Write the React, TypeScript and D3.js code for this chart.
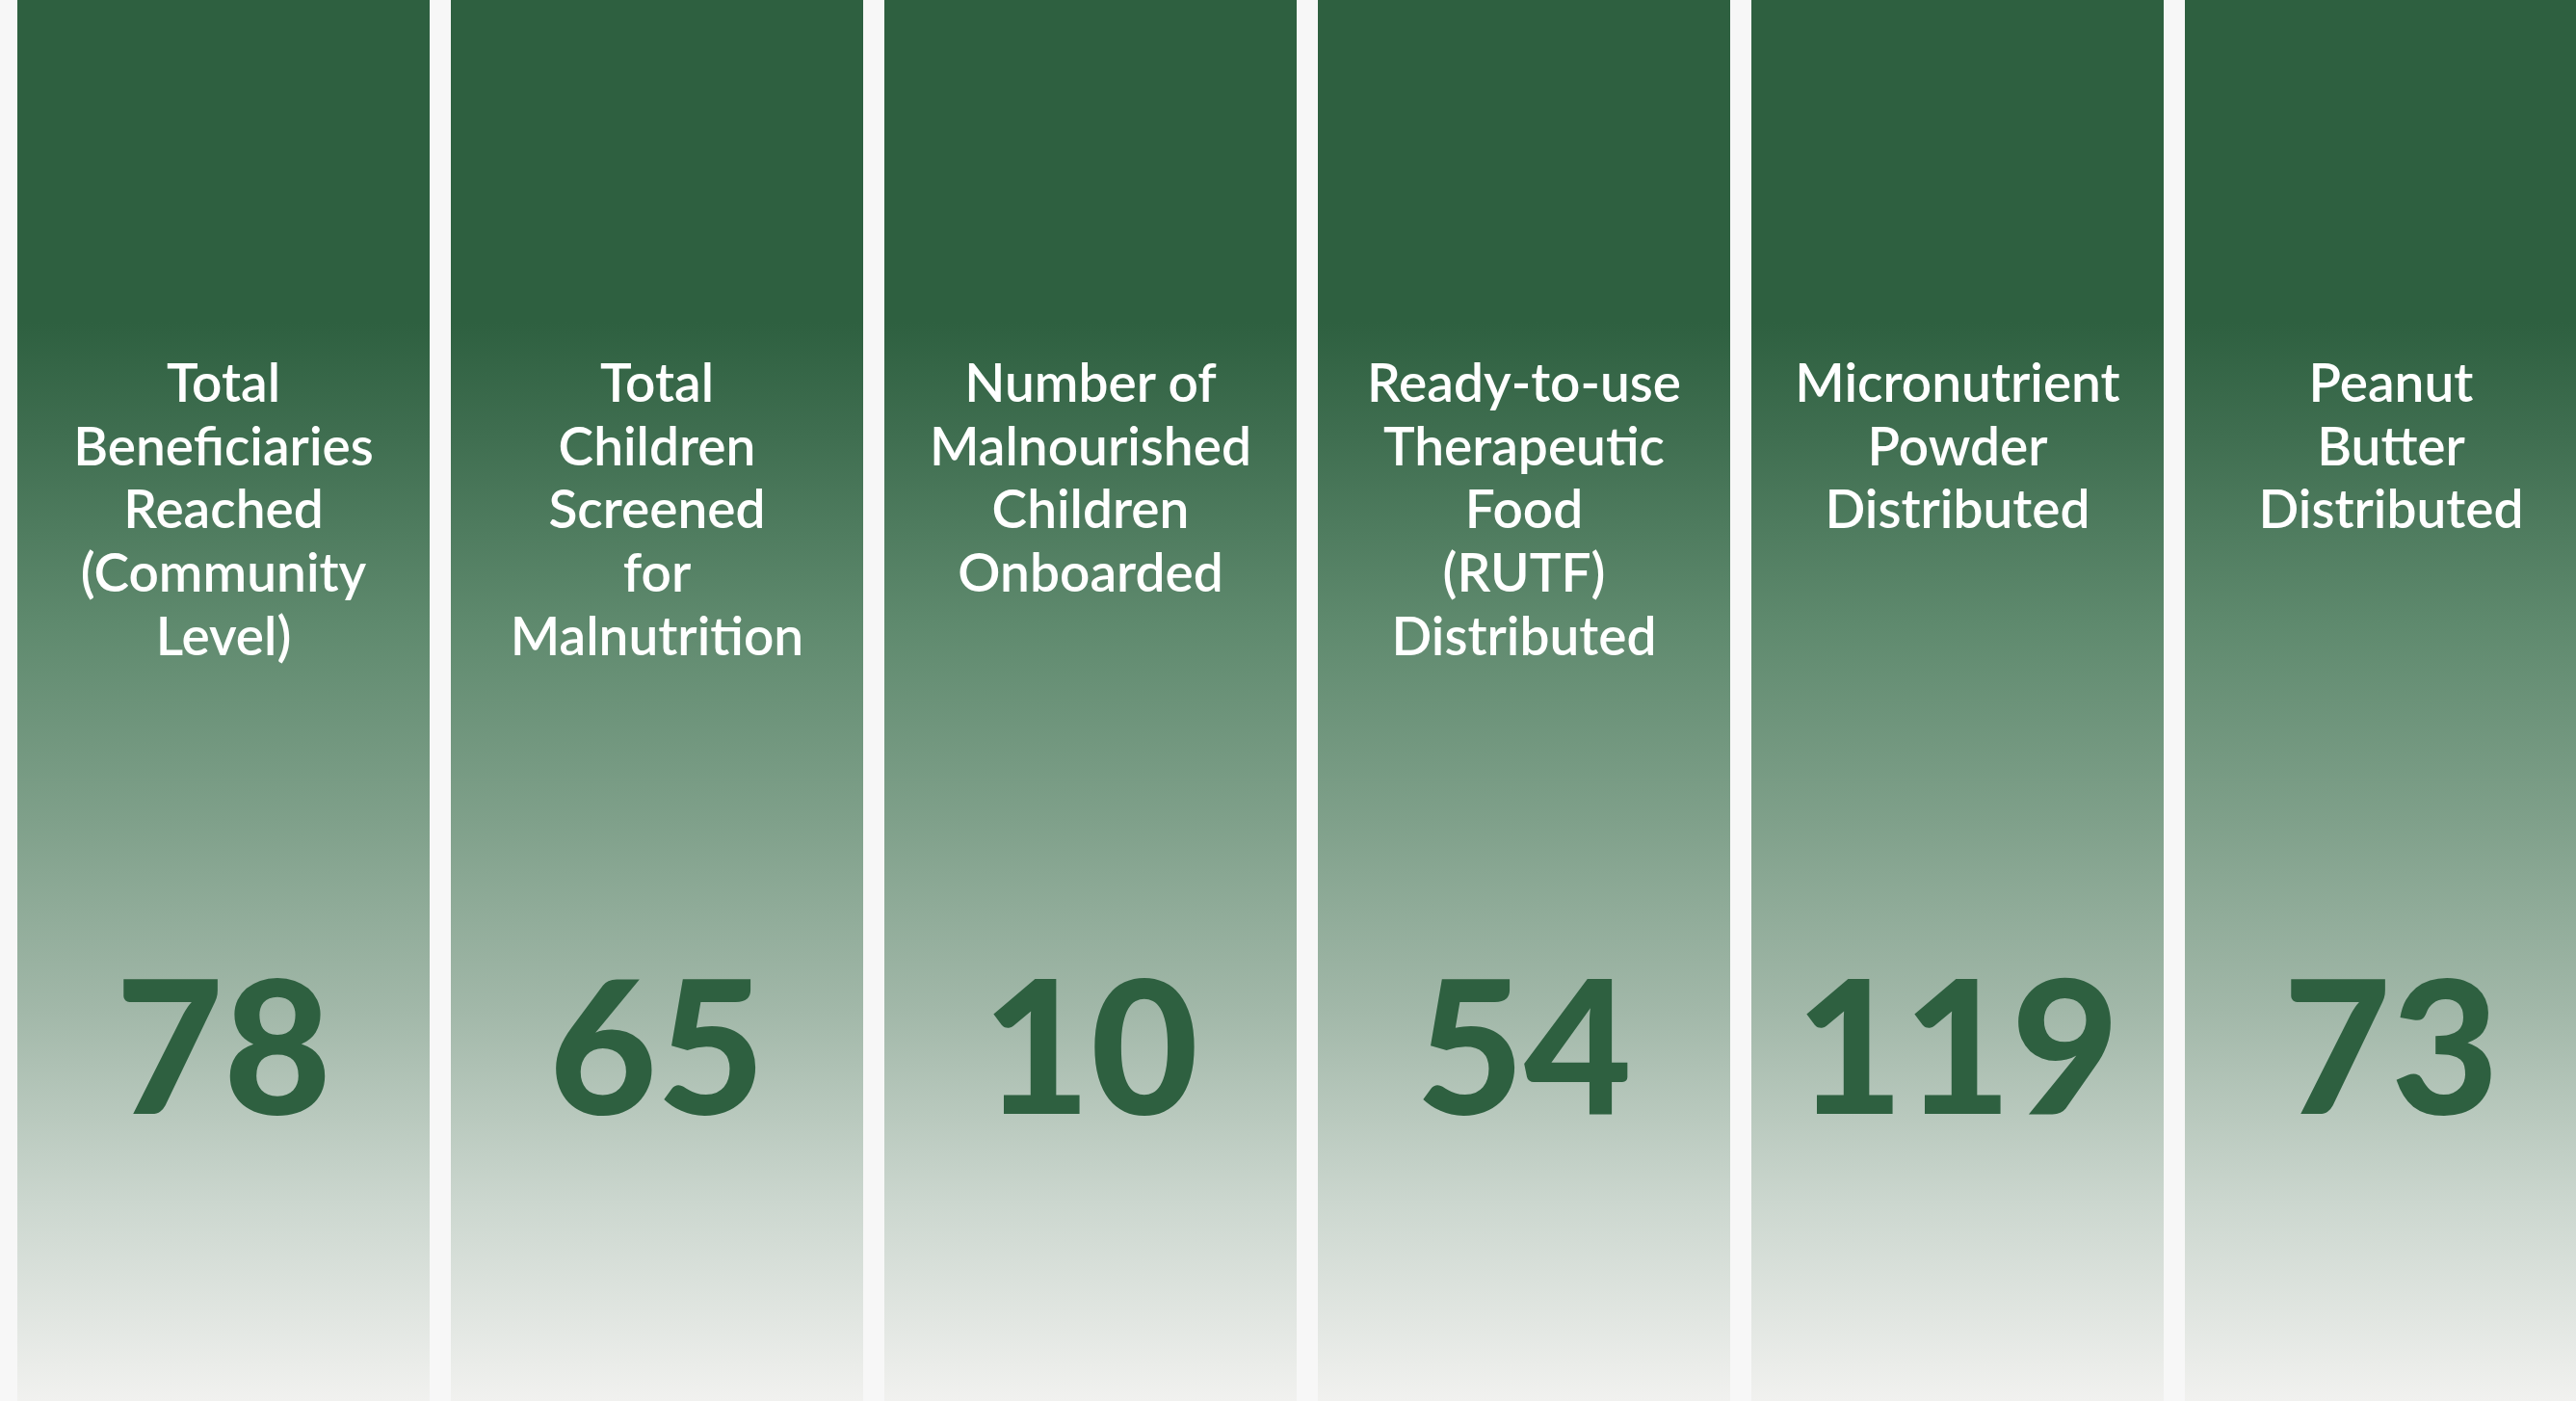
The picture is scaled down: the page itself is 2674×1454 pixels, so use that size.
import React, { useEffect, useRef } from 'react'
import * as d3 from 'd3'

// indicator labels, one entry per line of the label
const labels: string[][] = [
  ['Total', 'Beneficiaries', 'Reached', '(Community', 'Level)'],
  ['Total', 'Children', 'Screened', 'for', 'Malnutrition'],
  ['Number of', 'Malnourished', 'Children', 'Onboarded'],
  ['Ready-to-use', 'Therapeutic', 'Food', '(RUTF)', 'Distributed'],
  ['Micronutrient', 'Powder', 'Distributed'],
  ['Peanut', 'Butter', 'Distributed'],
]
const values = [78, 65, 10, 54, 119, 73]
const keys = labels.map((_, i) => `k${i}`)

const W = 2674
const H = 1454
const GREEN = '#2e6040'

export default function App() {
  const svgRef = useRef<SVGSVGElement>(null)

  useEffect(() => {
    document.body.style.margin = '0'
    if (!svgRef.current) return
    const svg = d3.select(svgRef.current)
    svg.selectAll('*').remove()

    // gradient down each column
    const defs = svg.append('defs')
    const grad = defs
      .append('linearGradient')
      .attr('id', 'colGrad')
      .attr('gradientUnits', 'userSpaceOnUse')
      .attr('x1', 0)
      .attr('y1', 0)
      .attr('x2', 0)
      .attr('y2', H)
    const stops: [number, string][] = [
      [0, GREEN],
      [0.23, GREEN],
      [0.31, '#3f6e50'],
      [0.447, '#5f8a6e'],
      [0.585, '#7fa08a'],
      [0.722, '#a2b8a9'],
      [0.86, '#ccd7cf'],
      [1, '#f1f1ef'],
    ]
    grad
      .selectAll('stop')
      .data(stops)
      .enter()
      .append('stop')
      .attr('offset', d => d[0])
      .attr('stop-color', d => d[1])

    svg.append('rect').attr('width', W).attr('height', H).attr('fill', '#f7f7f7')

    const x = d3
      .scaleBand<string>()
      .domain(keys)
      .range([18, 18 + keys.length * 450 - 22])
      .paddingInner(22 / 450)
      .paddingOuter(0)

    const cols = svg
      .selectAll('.col')
      .data(keys)
      .enter()
      .append('g')
      .attr('class', 'col')
      .attr('transform', d => `translate(${x(d)},0)`)

    cols
      .append('rect')
      .attr('width', x.bandwidth())
      .attr('height', H)
      .attr('fill', 'url(#colGrad)')

    const cx = x.bandwidth() / 2

    cols
      .append('text')
      .attr('x', cx)
      .attr('y', 417)
      .attr('text-anchor', 'middle')
      .attr('fill', '#ffffff')
      .style('font-family', 'Lato, sans-serif')
      .style('font-weight', 600)
      .style('font-size', '55px')
      .selectAll('tspan')
      .data((_, i) => labels[i])
      .enter()
      .append('tspan')
      .attr('x', cx)
      .attr('dy', (_, j) => (j === 0 ? 0 : 65.7))
      .text(d => d)

    cols
      .append('text')
      .attr('x', cx)
      .attr('y', 1156)
      .attr('text-anchor', 'middle')
      .attr('fill', GREEN)
      .style('font-family', 'Lato, sans-serif')
      .style('font-weight', 900)
      .style('font-size', '193px')
      .text((_, i) => String(values[i]))
  }, [])

  return (
    <svg
      ref={svgRef}
      width={W}
      height={H}
      style={{ position: 'absolute', top: 0, left: 0, display: 'block' }}
    />
  )
}
